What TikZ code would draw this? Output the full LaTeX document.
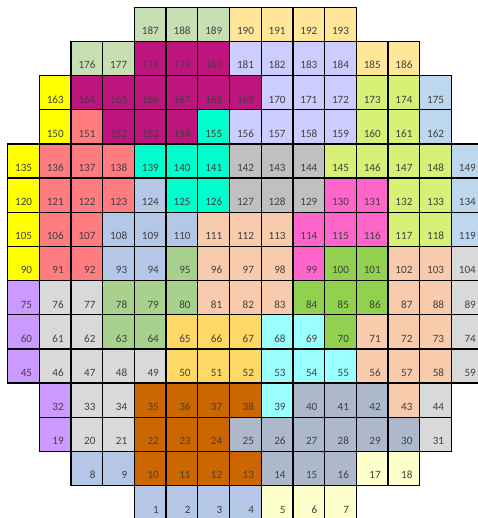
\documentclass[tikz,border=0pt]{standalone}
\usepackage{fontspec}
\setmainfont{Carlito}
\definecolor{sage}{RGB}{198,224,180}
\definecolor{sand}{RGB}{255,230,153}
\definecolor{plum}{RGB}{190,20,125}
\definecolor{lilac}{RGB}{204,204,255}
\definecolor{lime}{RGB}{217,240,118}
\definecolor{sky}{RGB}{189,215,238}
\definecolor{lemon}{RGB}{255,255,0}
\definecolor{salmon}{RGB}{255,124,128}
\definecolor{aqua}{RGB}{0,255,204}
\definecolor{silver}{RGB}{192,192,192}
\definecolor{pink}{RGB}{255,102,204}
\definecolor{steel}{RGB}{180,199,231}
\definecolor{peach}{RGB}{248,203,173}
\definecolor{fog}{RGB}{217,217,217}
\definecolor{moss}{RGB}{169,209,142}
\definecolor{grass}{RGB}{146,208,80}
\definecolor{mauve}{RGB}{204,153,255}
\definecolor{gold}{RGB}{255,217,102}
\definecolor{ice}{RGB}{153,255,255}
\definecolor{rust}{RGB}{204,102,0}
\definecolor{slate}{RGB}{173,185,202}
\definecolor{cream}{RGB}{255,255,204}
\definecolor{gridline}{RGB}{0,0,0}
\definecolor{numbercolor}{RGB}{64,64,64}
\tikzset{
cell/.style={
  draw=gridline,
  line width=1.1pt,
  minimum width=0.951cm,
  minimum height=1.025cm,
  inner sep=0pt,
  outer sep=0pt
},
cellnum/.style={
  anchor=base east,
  inner sep=0pt,
  font=\fontsize{9.5}{11}\selectfont,
  text=numbercolor
}
}
\begin{document}
\begin{tikzpicture}[x=0.951cm, y=1.025cm]
  \useasboundingbox (-0.24,0.05) rectangle (14.84,15.214);
  % row / first column / first number / fills
  \foreach \r/\c/\n/\fills in {
    0/4/1/{steel,steel,steel,steel,cream,cream,cream},
    1/2/8/{steel,steel,rust,rust,rust,rust,slate,slate,slate,cream,cream},
    2/1/19/{mauve,fog,fog,rust,rust,rust,slate,slate,slate,slate,slate,slate,fog},
    3/1/32/{mauve,fog,fog,rust,rust,rust,rust,ice,slate,slate,slate,peach,fog},
    4/0/45/{mauve,fog,fog,fog,fog,gold,gold,gold,ice,ice,ice,peach,peach,peach,fog},
    5/0/60/{mauve,fog,fog,moss,moss,gold,gold,gold,ice,ice,grass,peach,peach,peach,fog},
    6/0/75/{mauve,fog,fog,moss,moss,moss,peach,peach,peach,grass,grass,grass,peach,peach,fog},
    7/0/90/{lemon,salmon,salmon,steel,steel,moss,peach,peach,peach,pink,grass,grass,peach,peach,fog},
    8/0/105/{lemon,salmon,salmon,steel,steel,steel,peach,peach,peach,pink,pink,pink,lime,lime,sky},
    9/0/120/{lemon,salmon,salmon,salmon,steel,aqua,aqua,silver,silver,silver,pink,pink,lime,lime,sky},
    10/0/135/{lemon,salmon,salmon,salmon,aqua,aqua,aqua,silver,silver,silver,lime,lime,lime,lime,sky},
    11/1/150/{lemon,salmon,plum,plum,plum,aqua,lilac,lilac,lilac,lilac,lime,lime,sky},
    12/1/163/{lemon,plum,plum,plum,plum,plum,plum,lilac,lilac,lilac,lime,lime,sky},
    13/2/176/{sage,sage,plum,plum,plum,lilac,lilac,lilac,lilac,sand,sand},
    14/4/187/{sage,sage,sage,sand,sand,sand,sand}%
  }{
    \foreach \f [count=\k from 0] in \fills {
      \pgfmathtruncatemacro\num{\n+\k}
      \node[cell, fill=\f] (c\num) at (\c+\k+0.5, \r+0.5) {};
      \node[cellnum] (t\num) at ([xshift=-0.21cm, yshift=0.2cm]c\num.south east) {\num};
    }
  }
\end{tikzpicture}
\end{document}
